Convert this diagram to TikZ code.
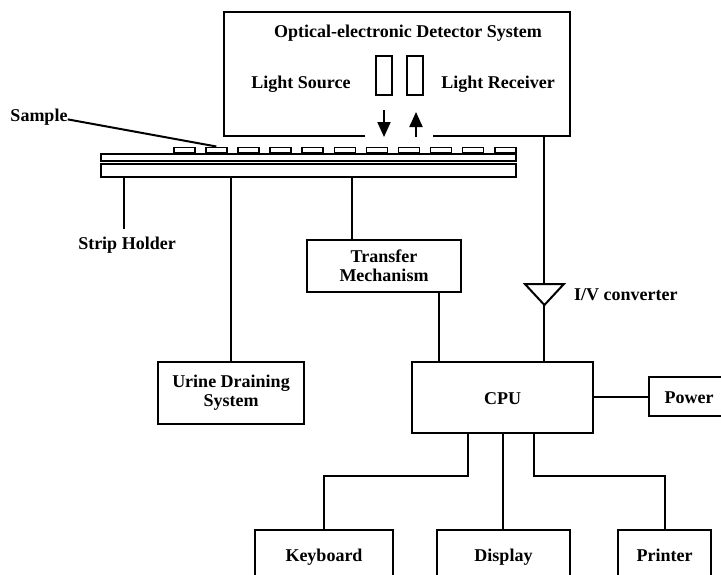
\documentclass[tikz,border=0pt]{standalone}
\usepackage{fontspec}
\setmainfont{Liberation Serif}
\usetikzlibrary{positioning,arrows.meta}
\tikzset{
  txt/.style={font=\fontsize{18}{19}\selectfont\bfseries, inner sep=0pt, align=center},
  blk/.style={txt, draw, line width=2pt, anchor=north west},
  one/.style={text height=14pt, text depth=0pt},
  wire/.style={line width=2pt},
  beam/.style={line width=2pt, -{Triangle[width=13pt,length=15pt]}},
}
\begin{document}
\begin{tikzpicture}[x=1pt,y=-1pt]
  \useasboundingbox (0,0) rectangle (721,574);
  \clip (0,0) rectangle (721,574);
  % detector
  \node[anchor=north west, minimum width=346, minimum height=124, inner sep=0pt] (det) at (224,12) {};
  \draw[wire] ([xshift=141pt]det.south west) -- (det.south west) -- (det.north west)
     -- (det.north east) -- (det.south east) -- ([xshift=-137pt]det.south east);
  \node[txt] (title) at (408,33) {Optical-electronic Detector System};
  \node[txt] (src) at (301,84) {Light Source};
  \node[txt] (rcv) at (498,84) {Light Receiver};
  \draw[wire] (376,56) rectangle (392,95);
  \draw[wire] (407,56) rectangle (423,95);
  \coordinate (lamp) at (384,110);
  \coordinate (cell) at (416,112);
  \draw[beam] (lamp) -- ++(0,27);
  \draw[beam] (cell) ++(0,25) -- (cell);
  % strip and holder
  \node[blk, minimum width=415, minimum height=7] (strip) at (100,153) {};
  \node[blk, minimum width=415, minimum height=13] (holder) at (100,163) {};
  \foreach \i in {0,...,10}
    \node[draw, line width=1.5pt, anchor=south west, minimum width=21, minimum height=5, inner sep=0pt]
      (pad\i) at (173+32.1*\i,153) {};
  \node[txt] (smp) at (39,117) {Sample};
  \draw[wire] ([yshift=6pt]smp.south east) -- (pad1.north);
  % blocks
  \node[blk, minimum width=154, minimum height=52] (trans) at (306,239) {Transfer\\Mechanism};
  \node[blk, minimum width=146, minimum height=62] (urine) at (157,361) {Urine Draining\\System};
  \node[blk, one, minimum width=181, minimum height=71] (cpu) at (411,361) {CPU};
  \node[blk, one, minimum width=80, minimum height=39] (pwr) at (648,376) {Power};
  \node[blk, one, minimum width=138, minimum height=48] (kbd) at (254,529) {Keyboard};
  \node[blk, one, minimum width=133, minimum height=48] (disp) at (436,529) {Display};
  \node[blk, one, minimum width=93, minimum height=48] (prn) at (617,529) {Printer};
  % holder legs
  \path (holder.south west) ++(24,0) coordinate (leg);
  \draw[wire] (leg) -- ++(0,51) coordinate (legend);
  \node[txt] (hold) at (127,245) {Strip Holder};
  \draw[wire] (urine.north) -- (urine.north |- holder.south);
  \path (trans.north west) ++(46,0) coordinate (tmtop);
  \draw[wire] (tmtop) -- (tmtop |- holder.south);
  \path (trans.south east) ++(-23,0) coordinate (tmbot);
  \draw[wire] (tmbot) -- (tmbot |- cpu.north);
  % I/V converter
  \path (det.south east) ++(-26,0) coordinate (detout);
  \coordinate (iv) at (detout |- 0,284);
  \draw[wire] (detout) -- (iv);
  \draw[wire, line join=miter] (iv) ++(-19.5,0) -- ++(39,0) -- ++(-19.5,21) coordinate (ivtip) -- cycle;
  \draw[wire] (ivtip) -- (ivtip |- cpu.north);
  \node[txt, anchor=west] (ivl) at (574,295) {I/V converter};
  % cpu outputs
  \draw[wire] (pwr.west) -- (pwr.west -| cpu.east);
  \draw[wire] ([xshift=-34.5pt]cpu.south) -- ++(0,42) -| (kbd.north);
  \draw[wire] (cpu.south) -- (cpu.south |- disp.north);
  \draw[wire] ([xshift=31.5pt]cpu.south) -- ++(0,42) -| (prn.north);
\end{tikzpicture}
\end{document}
